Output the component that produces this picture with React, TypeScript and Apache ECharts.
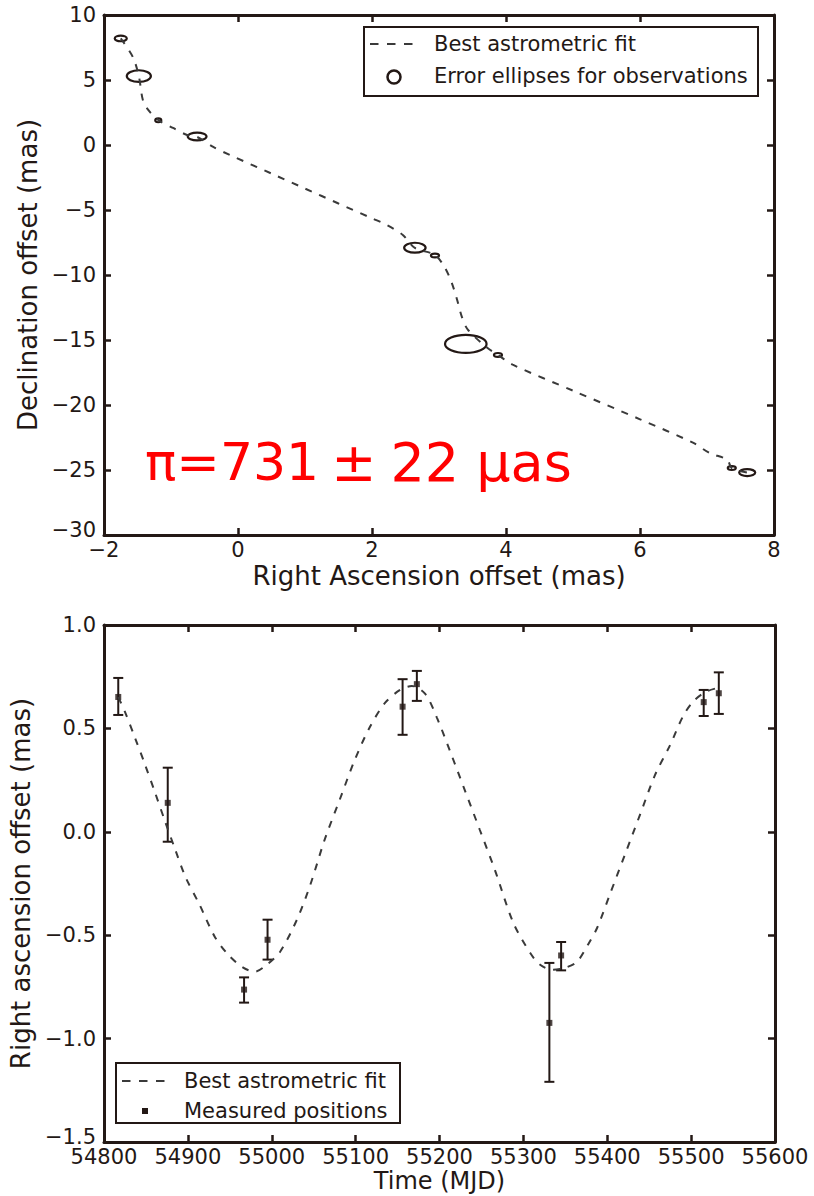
import React, { useEffect, useRef } from "react";
import * as echarts from "echarts";

// ---- Top panel: sky track (RA offset vs Dec offset, mas) ----
const fitRA = [-1.75, -1.57, -1.48, -1.42, -1.34, -1.19, -0.97, -0.76, -0.61, -0.37, -0.12, 0.5, 1.0, 1.5, 2.0, 2.22, 2.46, 2.64, 2.94, 3.09, 3.19, 3.27, 3.34, 3.43, 3.72, 3.88, 4.1, 5.0, 6.0, 6.79, 7.04, 7.3, 7.37, 7.6];
const fitDec = [8.2, 6.77, 5.3, 3.46, 2.7, 1.92, 1.31, 0.77, 0.62, -0.15, -0.77, -2.2, -3.35, -4.5, -5.64, -6.15, -6.92, -7.92, -8.46, -9.46, -10.6, -11.9, -13.2, -14.2, -15.6, -16.15, -16.9, -18.9, -21.1, -22.9, -23.7, -24.2, -24.85, -25.2];

// observation ellipses: centre RA, centre Dec, semi-axis RA, semi-axis Dec (mas)
const obsRA = [-1.75, -1.48, -1.19, -0.61, 2.64, 2.94, 3.4, 3.88, 7.37, 7.6];
const obsDec = [8.2, 5.3, 1.9, 0.65, -7.9, -8.5, -15.3, -16.15, -24.85, -25.2];
const obsErrRA = [0.09, 0.18, 0.045, 0.14, 0.16, 0.06, 0.31, 0.06, 0.06, 0.12];
const obsErrDec = [0.22, 0.45, 0.15, 0.3, 0.38, 0.15, 0.69, 0.15, 0.15, 0.27];

// ---- Bottom panel: RA offset vs time ----
const fitMJD = [54817, 54825, 54837, 54849, 54861, 54873, 54885, 54897, 54914, 54932, 54948, 54966, 54980, 54994, 55010, 55030, 55046, 55063, 55081, 55099, 55117, 55135, 55153, 55167, 55183, 55197, 55212, 55230, 55248, 55266, 55288, 55308, 55320, 55335, 55350, 55364, 55377, 55388, 55403, 55421, 55439, 55457, 55475, 55490, 55502, 55517, 55532];
const fitOffset = [0.652, 0.58, 0.454, 0.324, 0.188, 0.048, -0.087, -0.217, -0.353, -0.507, -0.594, -0.657, -0.676, -0.643, -0.58, -0.425, -0.256, -0.039, 0.155, 0.348, 0.507, 0.623, 0.686, 0.705, 0.667, 0.551, 0.396, 0.203, 0.01, -0.184, -0.44, -0.585, -0.643, -0.667, -0.657, -0.628, -0.546, -0.464, -0.304, -0.111, 0.082, 0.275, 0.42, 0.556, 0.628, 0.676, 0.696];

const measMJD = [54817, 54876, 54967, 54995, 55156, 55173, 55331, 55345, 55515, 55533];
const measOffset = [0.652, 0.14, -0.763, -0.522, 0.605, 0.714, -0.924, -0.598, 0.627, 0.67];
const measLow = [0.565, -0.048, -0.826, -0.618, 0.469, 0.633, -1.209, -0.67, 0.56, 0.57];
const measHigh = [0.744, 0.31, -0.704, -0.425, 0.738, 0.778, -0.634, -0.533, 0.686, 0.771];

const INK = "#231815";
const FONT = "'DejaVu Sans', sans-serif";

const minus = (s: string) => s.replace("-", "\u2212");

function frameAxes(gridIndex: number, min: number, max: number, interval: number, isX: boolean, labelFmt: (v: number) => string, name: string, nameGap: number, nameSize: number) {
  const common = {
    gridIndex,
    type: "value" as const,
    min,
    max,
    interval,
    splitLine: { show: false },
    axisLine: { show: true, onZero: false, lineStyle: { color: INK, width: 3 } },
    axisTick: { show: true, inside: true, length: 7, lineStyle: { color: INK, width: 2.5 } },
  };
  return [
    {
      ...common,
      position: isX ? "bottom" : "left",
      axisLabel: {
        show: true,
        color: INK,
        fontFamily: FONT,
        fontSize: 21,
        lineHeight: 22,
        margin: isX ? 4 : 8,
        formatter: (v: number) => (!isX && v === min ? `{lo|${labelFmt(v)}}` : labelFmt(v)),
        rich: { lo: { fontFamily: FONT, fontSize: 21, color: INK, padding: [0, 0, 10, 0] } },
      },
      name,
      nameLocation: "middle",
      nameGap,
      nameTextStyle: { color: INK, fontFamily: FONT, fontSize: nameSize, lineHeight: nameSize },
    },
    {
      ...common,
      position: isX ? "top" : "right",
      axisLabel: { show: false },
    },
  ];
}

export default function App() {
  const ref = useRef<HTMLDivElement>(null);
  useEffect(() => {
    if (!ref.current) return;
    const chart = echarts.init(ref.current, undefined, { renderer: "svg" });

    const topFit = fitRA.map((x, i) => [x, fitDec[i]]);
    const ellipseData = obsRA.map((x, i) => [x, obsDec[i], obsErrRA[i], obsErrDec[i]]);
    const botFit = fitMJD.map((t, i) => [t, fitOffset[i]]);
    const meas = measMJD.map((t, i) => [t, measOffset[i]]);
    const errData = measMJD.map((t, i) => [t, measLow[i], measHigh[i]]);

    const xA = [
      ...frameAxes(0, -2, 8, 2, true, (v) => minus(String(v)), "Right Ascension offset (mas)", 28, 26),
      ...frameAxes(1, 54800, 55600, 100, true, (v) => String(v), "Time (MJD)", 27, 24),
    ];
    const yA = [
      ...frameAxes(0, -30, 10, 5, false, (v) => minus(String(v)), "Declination offset (mas)", 60, 26),
      ...frameAxes(1, -1.5, 1.0, 0.5, false, (v) => minus(v.toFixed(1)), "Right ascension offset (mas)", 68, 26),
    ];

    chart.setOption({
      animation: false,
      backgroundColor: "#ffffff",
      grid: [
        { left: 104, top: 15, width: 670, height: 520, outerBoundsMode: "none", containLabel: false },
        { left: 104, top: 625, width: 671, height: 517, outerBoundsMode: "none", containLabel: false },
      ],
      xAxis: xA,
      yAxis: yA,
      series: [
        {
          name: "Best astrometric fit",
          type: "line",
          xAxisIndex: 0,
          yAxisIndex: 0,
          data: topFit,
          showSymbol: false,
          smooth: 0.3,
          lineStyle: { color: "#3a3a3a", width: 2, type: [7, 8] },
        },
        {
          name: "Error ellipses for observations",
          type: "custom",
          xAxisIndex: 0,
          yAxisIndex: 0,
          data: ellipseData,
          encode: { x: 0, y: 1 },
          renderItem: (params: any, api: any) => {
            const c = api.coord([api.value(0), api.value(1)]);
            const s = api.size([api.value(2), api.value(3)]);
            return {
              type: "ellipse",
              shape: { cx: c[0], cy: c[1], rx: s[0], ry: s[1] },
              style: { fill: "none", stroke: INK, lineWidth: 2.2 },
            };
          },
        },
        {
          name: "Best astrometric fit",
          type: "line",
          xAxisIndex: 2,
          yAxisIndex: 2,
          data: botFit,
          showSymbol: false,
          smooth: 0.3,
          lineStyle: { color: "#3a3a3a", width: 2, type: [7, 8] },
        },
        {
          name: "Measured positions error",
          type: "custom",
          xAxisIndex: 2,
          yAxisIndex: 2,
          data: errData,
          encode: { x: 0, y: [1, 2] },
          renderItem: (params: any, api: any) => {
            const t = api.value(0);
            const lo = api.coord([t, api.value(1)]);
            const hi = api.coord([t, api.value(2)]);
            const w = 5;
            const st = { stroke: INK, lineWidth: 2 };
            return {
              type: "group",
              children: [
                { type: "line", shape: { x1: lo[0], y1: lo[1], x2: hi[0], y2: hi[1] }, style: st },
                { type: "line", shape: { x1: lo[0] - w, y1: lo[1], x2: lo[0] + w, y2: lo[1] }, style: st },
                { type: "line", shape: { x1: hi[0] - w, y1: hi[1], x2: hi[0] + w, y2: hi[1] }, style: st },
              ],
            };
          },
        },
        {
          name: "Measured positions",
          type: "scatter",
          xAxisIndex: 2,
          yAxisIndex: 2,
          data: meas,
          symbol: "rect",
          symbolSize: 6,
          itemStyle: { color: INK },
        },
      ],
      graphic: [
        // top legend
        { type: "rect", shape: { x: 364, y: 27, width: 394, height: 69 }, style: { fill: "#fff", stroke: INK, lineWidth: 2 }, z: 10 },
        { type: "line", shape: { x1: 370, y1: 44, x2: 414, y2: 44 }, style: { stroke: "#3a3a3a", lineWidth: 2, lineDash: [8.5, 8.5] }, z: 11 },
        { type: "ellipse", shape: { cx: 394, cy: 77, rx: 6.5, ry: 6.5 }, style: { fill: "#fff", stroke: INK, lineWidth: 2.5 }, z: 11 },
        { type: "text", x: 434, y: 44, style: { text: "Best astrometric fit", font: `21px ${FONT}`, fill: INK, verticalAlign: "middle" }, z: 11 },
        { type: "text", x: 434, y: 76, style: { text: "Error ellipses for observations", font: `21px ${FONT}`, fill: INK, verticalAlign: "middle" }, z: 11 },
        // bottom legend
        { type: "rect", shape: { x: 116, y: 1063, width: 284, height: 60 }, style: { fill: "#fff", stroke: INK, lineWidth: 2 }, z: 10 },
        { type: "line", shape: { x1: 122, y1: 1081, x2: 166, y2: 1081 }, style: { stroke: "#3a3a3a", lineWidth: 2, lineDash: [8.5, 8.5] }, z: 11 },
        { type: "rect", shape: { x: 142, y: 1108, width: 6, height: 6 }, style: { fill: INK }, z: 11 },
        { type: "text", x: 184, y: 1081, style: { text: "Best astrometric fit", font: `21px ${FONT}`, fill: INK, verticalAlign: "middle" }, z: 11 },
        { type: "text", x: 184, y: 1111, style: { text: "Measured positions", font: `21px ${FONT}`, fill: INK, verticalAlign: "middle" }, z: 11 },
        // parallax annotation
        {
          type: "text",
          x: 145,
          y: 462,
          style: {
            text: "{a|\u03c0=731}{b|\u00b1}{c|22 \u03bcas}",
            verticalAlign: "middle",
            rich: {
              a: { fontSize: 52, fontFamily: FONT, fill: "#ff0000" },
              b: { fontSize: 54, fontFamily: FONT, fill: "#ff0000", padding: [0, 14, 0, 12] },
              c: { fontSize: 54, fontFamily: FONT, fill: "#ff0000" },
            },
          },
          z: 11,
        },
      ],
    });
    return () => chart.dispose();
  }, []);
  return <div ref={ref} style={{ position: "absolute", left: 0, top: 0, width: 814, height: 1196 }} />;
}
